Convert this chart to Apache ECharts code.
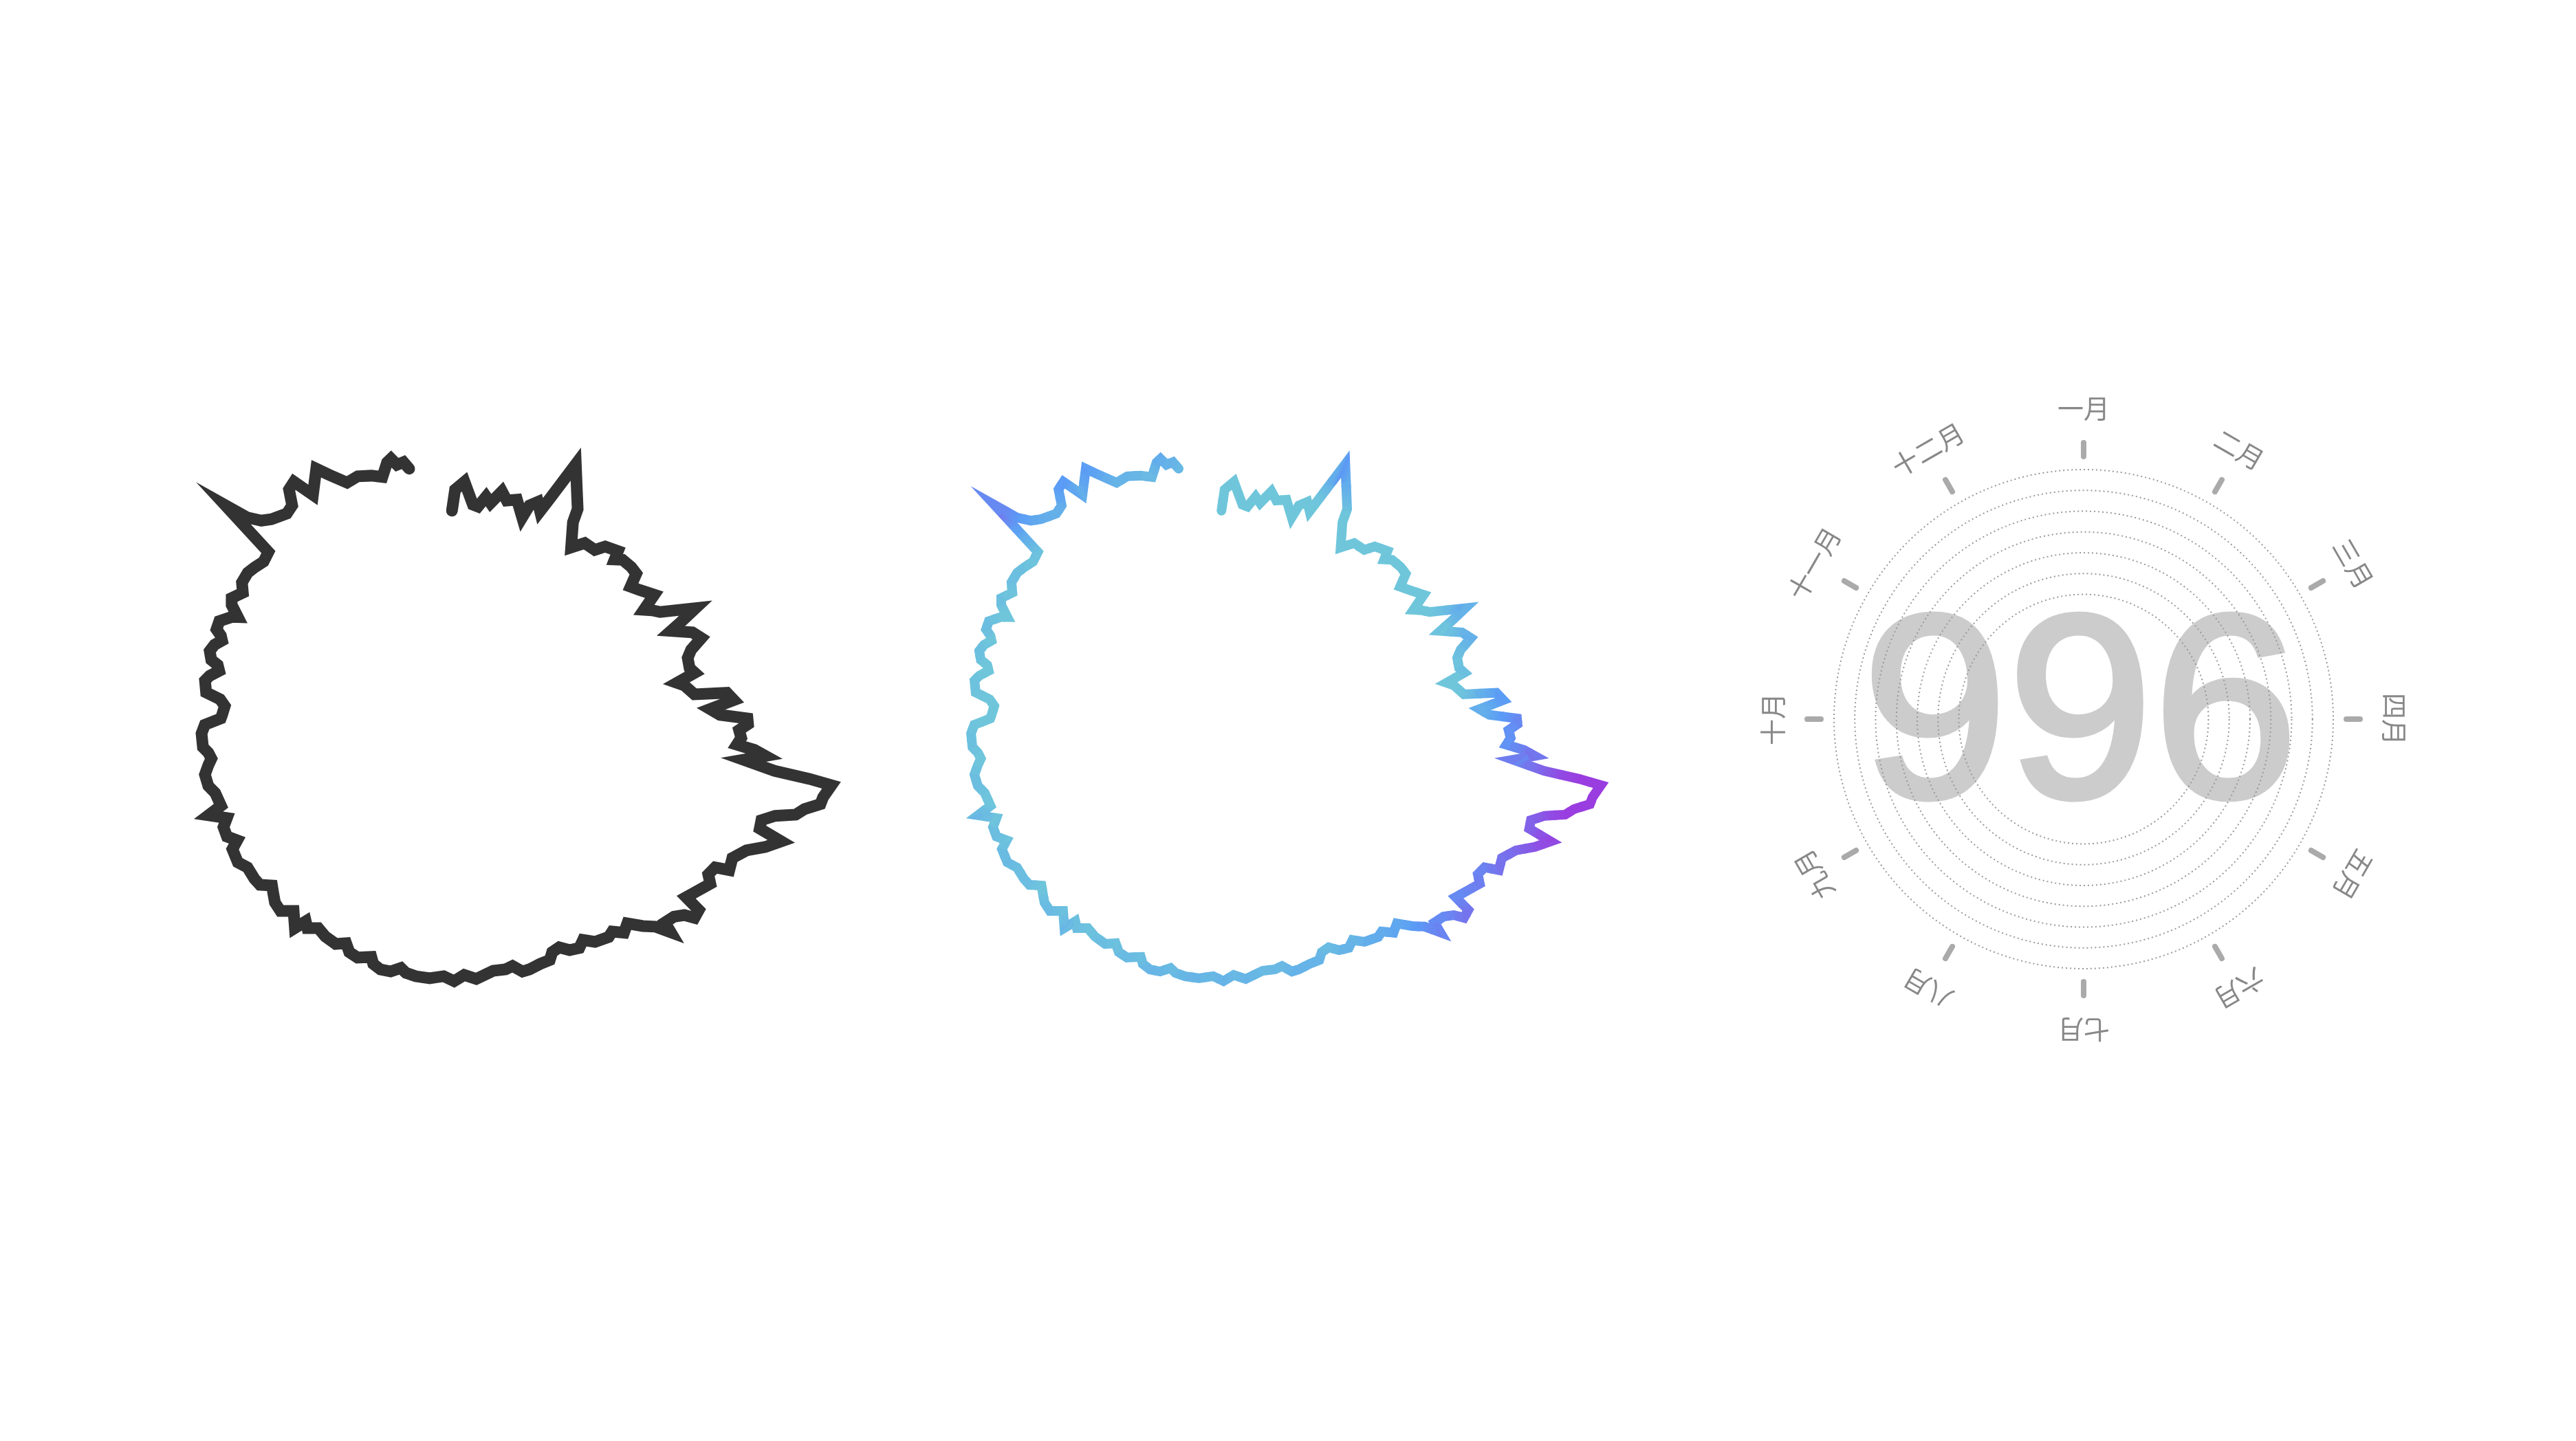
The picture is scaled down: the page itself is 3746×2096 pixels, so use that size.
<!DOCTYPE html>
<html>
<head>
<meta charset="utf-8">
<script src="https://cdn.jsdelivr.net/npm/echarts@6.0.0/dist/echarts.min.js"></script>
<style>
html,body{margin:0;padding:0;background:#fff;}
#main{width:3746px;height:2096px;}
</style>
</head>
<body>
<div id="main"></div>
<script>
// angle position of each point (degrees, clockwise from top = 1 Jan)
const angle = [0.8,1.5,3.7,6.3,7.7,9.4,10.8,13.0,14.7,17.1,19.8,20.5,22.1,23.5,24.5,26.3,31.3,32.0,35.2,37.4,
40.5,41.9,44.9,45.8,47.2,49.9,51.9,53.6,55.6,58.5,60.4,61.5,62.8,65.5,67.0,68.0,70.1,71.9,73.7,75.3,
77.7,79.0,80.6,81.5,83.9,84.3,85.9,87.5,88.8,89.6,90.7,91.9,93.4,94.8,95.5,96.4,97.6,98.8,99.2,99.6,
101.6,102.7,104.0,105.2,106.3,107.7,109.2,110.0,111.8,113.6,115.9,118.1,118.9,120.7,122.0,125.0,126.7,127.2,128.8,129.6,
131.1,133.1,133.7,135.0,136.7,138.7,140.5,142.3,143.6,146.6,148.6,150.2,152.3,154.1,156.0,157.2,159.5,162.1,163.7,165.5,
167.2,170.0,174.0,176.6,178.9,181.2,184.3,187.4,189.7,191.0,193.1,195.4,197.3,198.2,201.1,203.3,204.8,206.9,209.8,212.2,
214.3,215.5,216.6,219.2,221.5,223.7,225.5,227.0,229.0,230.9,233.9,236.1,239.3,240.5,242.4,244.7,246.3,248.5,249.5,252.8,
254.8,257.5,259.5,260.9,262.4,263.8,267.0,269.0,270.5,271.5,273.7,275.3,276.6,279.3,280.6,282.2,283.5,284.3,286.2,287.9,
289.4,290.4,291.4,293.4,295.5,296.1,298.0,299.4,301.8,303.7,306.3,308.2,310.6,313.0,313.9,315.2,316.8,318.6,321.9,323.9,
325.3,327.0,328.9,332.2,333.9,336.8,339.5,342.4,344.7,346.5,347.5,348.5,350.0,351.0];
// value of each point
const value = [76.3,84.0,87.0,79.0,78.5,82.5,80.5,85.5,82.7,84.0,78.5,83.5,85.8,83.0,89.2,104.0,90.0,85.0,77.0,81.2,
81.6,85.0,87.0,84.0,86.0,86.6,86.5,82.0,84.0,87.5,81.5,84.0,86.3,98.5,91.5,87.0,94.1,96.5,91.7,89.7,
89.5,91.0,84.0,86.5,89.7,101.5,103.8,95.0,98.5,108.5,108.7,105.5,106.4,105.0,111.5,115.7,108.0,119.8,132.7,141.0,
138.8,138.4,133.2,130.6,123.5,119.2,119.6,128.5,123.8,118.0,114.5,115.5,110.5,109.6,112.0,109.0,107.5,114.0,114.5,111.0,
108.5,107.5,111.5,106.0,102.7,98.2,100.0,97.0,97.8,96.4,93.5,95.3,94.3,91.7,92.2,94.5,94.5,95.1,95.1,92.2,
92.8,92.4,94.5,92.7,94.8,93.0,94.0,93.8,93.1,91.7,93.7,93.9,92.7,90.5,92.4,91.7,89.2,91.1,90.5,89.2,
91.4,89.7,94.0,89.4,92.5,91.6,89.6,88.0,91.1,91.2,90.7,92.5,91.6,88.5,91.1,90.7,88.2,94.0,88.5,89.0,
90.7,90.9,89.0,87.5,88.3,90.0,90.1,88.8,83.0,82.5,81.7,83.6,88.9,89.9,88.5,85.5,86.5,89.2,90.6,89.6,
87.5,88.5,90.8,91.0,87.5,85.5,89.5,90.7,88.2,90.5,90.8,90.0,88.8,89.8,113.0,104.0,99.7,97.6,95.6,96.8,
102.2,103.5,95.8,103.5,99.6,94.1,94.8,93.4,91.8,96.5,97.5,94.9,95.4,92.7];
const months = ['一月','二月','三月','四月','五月','六月','七月','八月','九月','十月','十一月','十二月'];
const monthIndex = [0,1,2,3,4,5,6,7,8,9,10,11];
const bigText = '996';
// colour scale of the second chart (value -> colour)
const colorValues = [88, 103, 130];
const colorList = ['#6fc6db', '#5a9cf6', '#9a3de0'];

const lineData = value.map((v, i) => [v, angle[i]]);
const hidden = {axisLine:{show:false}, axisTick:{show:false}, axisLabel:{show:false}, splitLine:{show:false}, splitArea:{show:false}};

function hexToRgb(h) { return [parseInt(h.slice(1,3),16), parseInt(h.slice(3,5),16), parseInt(h.slice(5,7),16)]; }
const rgbList = colorList.map(hexToRgb);
function colorOf(v) {
  if (v <= colorValues[0]) return colorList[0];
  for (let k = 1; k < colorValues.length; k++) {
    if (v <= colorValues[k]) {
      const t = (v - colorValues[k-1]) / (colorValues[k] - colorValues[k-1]);
      const a = rgbList[k-1], b = rgbList[k];
      return 'rgb(' + a.map((c, j) => Math.round(c + (b[j] - c) * t)).join(',') + ')';
    }
  }
  return colorList[colorList.length - 1];
}

function renderGradientPiece(params, api) {
  const i = params.dataIndexInside;
  const n = params.dataInsideLength;
  const v = api.value(0);
  const cur = api.coord([v, api.value(1)]);
  let start = cur, end = cur, vs = v, ve = v;
  if (i > 0) {
    const pv = api.value(0, i - 1);
    const p = api.coord([pv, api.value(1, i - 1)]);
    start = [(p[0] + cur[0]) / 2, (p[1] + cur[1]) / 2];
    vs = (pv + v) / 2;
  }
  if (i < n - 1) {
    const nv = api.value(0, i + 1);
    const q = api.coord([nv, api.value(1, i + 1)]);
    end = [(q[0] + cur[0]) / 2, (q[1] + cur[1]) / 2];
    ve = (nv + v) / 2;
  }
  const dx = end[0] - start[0], dy = end[1] - start[1];
  const L2 = dx * dx + dy * dy;
  let stroke;
  if (L2 < 1) {
    stroke = colorOf(v);
  } else {
    let t = ((cur[0] - start[0]) * dx + (cur[1] - start[1]) * dy) / L2;
    t = Math.min(0.99, Math.max(0.01, t));
    stroke = {type: 'linear', x: start[0], y: start[1], x2: end[0], y2: end[1], global: true,
      colorStops: [{offset: 0, color: colorOf(vs)}, {offset: t, color: colorOf(v)}, {offset: 1, color: colorOf(ve)}]};
  }
  return {
    type: 'polyline',
    shape: {points: [start, cur, end]},
    style: {stroke: stroke, fill: null, lineWidth: 14, lineCap: 'round', lineJoin: 'miter', miterLimit: 20}
  };
}

const chart = echarts.init(document.getElementById('main'));
chart.setOption({
  backgroundColor: '#ffffff',
  animation: false,
  graphic: [{
    type: 'text', x: 3025, y: 1054, z: -10,
    style: {text: bigText, fontSize: 380, fontWeight: 'normal', fontFamily: 'Liberation Sans, Arial, sans-serif',
      fill: '#cccccc', stroke: '#cccccc', lineWidth: 8, align: 'center', verticalAlign: 'middle'}
  }],
  polar: [
    {center: [653, 1048], radius: 600},
    {center: [1772, 1048], radius: 600},
    {center: [3030, 1046], radius: [181.5, 363]},
    {center: [3030, 1046], radius: 382}
  ],
  angleAxis: [
    Object.assign({polarIndex: 0, type: 'value', min: 0, max: 360, startAngle: 90, clockwise: true}, hidden),
    Object.assign({polarIndex: 1, type: 'value', min: 0, max: 360, startAngle: 90, clockwise: true}, hidden),
    Object.assign({polarIndex: 2, type: 'value', min: 0, max: 12, interval: 1, startAngle: 90, clockwise: true}, hidden),
    Object.assign({polarIndex: 3, type: 'value', min: 0, max: 12, interval: 1, startAngle: 90, clockwise: true}, hidden,
      {axisTick: {show: true, length: 20, lineStyle: {color: '#aaaaaa', width: 8, cap: 'round'}}})
  ],
  radiusAxis: [
    Object.assign({polarIndex: 0, type: 'value', min: 0, max: 150}, hidden),
    Object.assign({polarIndex: 1, type: 'value', min: 0, max: 150}, hidden),
    Object.assign({polarIndex: 2, type: 'value', min: 0, max: 6, interval: 1}, hidden,
      {splitLine: {show: true, lineStyle: {type: [2, 4], color: '#999999', width: 2}}}),
    Object.assign({polarIndex: 3, type: 'value', min: 0, max: 100}, hidden)
  ],
  series: [
    {
      type: 'line', coordinateSystem: 'polar', polarIndex: 0, data: lineData,
      symbol: 'none', silent: true, clip: false,
      lineStyle: {color: '#333333', width: 17, cap: 'round', join: 'miter', miterLimit: 20}
    },
    {
      type: 'custom', coordinateSystem: 'polar', polarIndex: 1, data: lineData,
      silent: true, clip: false,
      renderItem: renderGradientPiece
    },
    {
      type: 'custom', coordinateSystem: 'polar', polarIndex: 3,
      data: monthIndex.map(i => [118.5, i]),
      silent: true,
      renderItem: function (params, api) {
        const p = api.coord([api.value(0), api.value(1)]);
        const theta = api.value(1) * 30 * Math.PI / 180;
        return {
          type: 'text', x: p[0], y: p[1], rotation: -theta,
          style: {text: months[params.dataIndex], fontSize: 38, fill: '#888888',
            fontFamily: 'Noto Sans CJK SC', align: 'center', verticalAlign: 'middle'}
        };
      }
    }
  ]
});
</script>
</body>
</html>
